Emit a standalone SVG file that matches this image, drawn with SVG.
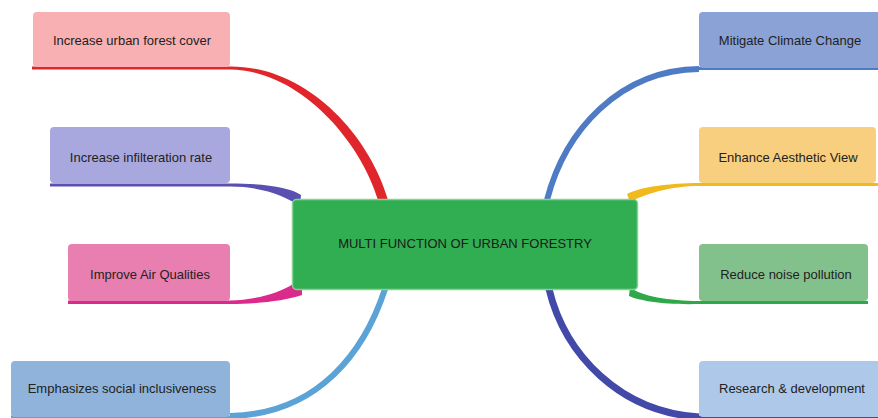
<svg xmlns="http://www.w3.org/2000/svg" width="878" height="418" viewBox="0 0 878 418">
<style>
.t{font-family:"Liberation Sans",Arial,sans-serif;font-size:13px;fill:#222;text-anchor:middle}
.ct{font-family:"Liberation Sans",Arial,sans-serif;font-size:13px;fill:#1a1a1a;text-anchor:middle}
.c{fill:none}
</style>
<rect width="878" height="418" fill="#fff"/>
<g id="connectors">
<path d="M32,68 L230,68" stroke="#e0262a" stroke-width="3"/>
<path d="M230,66.5 C306,66 369,134 388,200 L378,200 C361,142 300,70 230,69.5 Z" fill="#e0262a"/>
<path d="M50,183.5 L230,183.5 C262,183.5 290,187 301,195 L300,206 C285,196 262,186.5 230,186.5 L50,186.5 Z" fill="#5a50b2"/>
<path d="M68,300.5 L230,300.5 C255,300 280,293 293,284 L302,284 L302,295 C285,301 255,304 230,304 L68,304 Z" fill="#da2a8c"/>
<path d="M11,417 L230,417" stroke="#5ba3d6" stroke-width="3"/>
<path class="c" d="M230,416 C320,414 365,350 385,289" stroke="#5ba3d6" stroke-width="6"/>
<path d="M699,68.5 L878,68.5" stroke="#4f7bc4" stroke-width="3"/>
<path class="c" d="M699,69 C620,70 565,130 547,200" stroke="#4f7bc4" stroke-width="6"/>
<path d="M878,183 L699,183 C670,183 640,187 627,194 L630,202 C645,194 670,186 699,186 L878,186 Z" fill="#f2b91c"/>
<path d="M630,287 C640,296 670,301 699,301 L868,301 L868,304 L699,304 C665,305 640,301 629,296 Z" fill="#2fa84a"/>
<path d="M679,417 L878,417" stroke="#4249a8" stroke-width="3"/>
<path class="c" d="M549,289 C565,355 620,412 699,417" stroke="#4249a8" stroke-width="7"/>
</g>
<g id="center">
<rect x="292.5" y="199.5" width="345" height="90" rx="4" fill="#31ad52" stroke="#86d196" stroke-width="1.5"/>
<text class="ct" x="465" y="248">MULTI FUNCTION OF URBAN FORESTRY</text>
</g>
<g id="n1"><rect x="33" y="12" width="197" height="55" rx="4" fill="#f9b0b2"/><text class="t" x="132" y="45">Increase urban forest cover</text></g>
<g id="n2"><rect x="50" y="127" width="180" height="56" rx="4" fill="#a9a8de"/><text class="t" x="141" y="162">Increase infilteration rate</text></g>
<g id="n3"><rect x="68" y="244" width="162" height="57" rx="4" fill="#e87fb0"/><text class="t" x="150" y="279">Improve Air Qualities</text></g>
<g id="n4"><rect x="11" y="361" width="219" height="56" rx="4" fill="#8fb3db"/><text class="t" x="122" y="393">Emphasizes social inclusiveness</text></g>
<g id="n5"><rect x="699" y="12" width="184" height="56" rx="4" fill="#8aa2d6"/><text class="t" x="790" y="45">Mitigate Climate Change</text></g>
<g id="n6"><rect x="699" y="127" width="177" height="56" rx="4" fill="#f8cf7e"/><text class="t" x="788" y="162">Enhance Aesthetic View</text></g>
<g id="n7"><rect x="699" y="244" width="169" height="57" rx="4" fill="#82c18c"/><text class="t" x="786" y="279">Reduce noise pollution</text></g>
<g id="n8"><rect x="699" y="361" width="184" height="56" rx="4" fill="#aec8ea"/><text class="t" x="792" y="393">Research &amp; development</text></g>
</svg>
